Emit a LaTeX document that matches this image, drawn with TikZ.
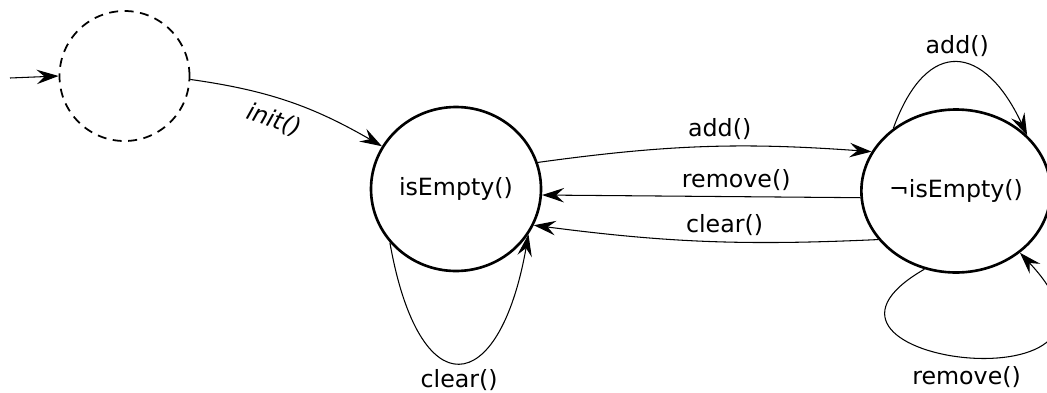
\documentclass[tikz,border=0pt]{standalone}
\usepackage{fontspec}
\setmainfont{DejaVu Sans}
\usetikzlibrary{shapes.geometric,arrows.meta}

\begin{document}
\begin{tikzpicture}[
    every node/.style={font=\fontsize{13.5}{16}\selectfont},
    state/.style={draw, ellipse, line width=1.5pt, inner sep=0pt},
    trans/.style={line width=0.6pt, -{Stealth[length=4.4mm,width=2.9mm,inset=1.6mm]}}
]
    \useasboundingbox (0,0) rectangle (209.4mm,78.4mm);

    %start state (dashed) and entry arrow
    \node[draw, circle, dashed, dash pattern=on 1.8mm off 1.3mm, line width=1pt, minimum size=26mm] (start) at (24.9mm,63.2mm) {};
    \coordinate (entry) at (2mm,62.8mm);
    \draw[trans] (entry) -- (start.west);

    %the two states
    \node[state, minimum width=34mm, minimum height=32.8mm] (empty) at (91.2mm,40.6mm) {isEmpty()};
    \node[state, minimum width=35.6mm, minimum height=32.6mm] (full) at (191.2mm,40.2mm) {¬isEmpty()};

    %init
    \draw[trans] (start.-3) to[out=-8,in=150] node[pos=0.45, sloped, below=3pt] {\itshape init()} (empty.150);

    %between the states
    \draw[trans] (empty.18) to[bend left=6] node[pos=0.55, above] {add()} (full.155);
    \draw[trans] (full.184) -- node[pos=0.39, above] {remove()} (empty.-4);
    \draw[trans] (full.212) to[bend left=5] node[pos=0.44, above] {clear()} (empty.-25);

    %loops
    \draw[trans] (empty.219) to[out=-80,in=-100,looseness=3.1] node[below] {clear()} (empty.-32);
    \draw[trans] (full.135) to[out=70,in=115,looseness=1.9] node[above] {add()} (full.38);
    \draw[trans] (full.248) .. controls +(-33mm,-19mm) and +(30mm,-32mm) .. node[pos=0.5, below=2pt] {remove()} (full.-44);
\end{tikzpicture}
\end{document}
